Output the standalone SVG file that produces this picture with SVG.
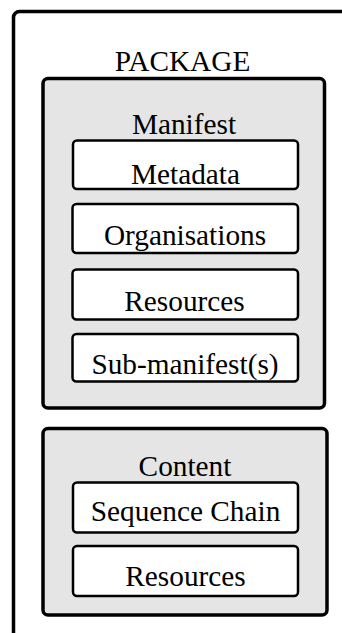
<svg xmlns="http://www.w3.org/2000/svg" width="342" height="633" viewBox="0 0 342 633">
<style>
text{font-family:"Liberation Serif","Times New Roman",serif;font-size:29.3px;fill:#000;text-anchor:middle}
.outer{fill:#fff;stroke:#000;stroke-width:3.5}
.grp{fill:#e5e5e5;stroke:#000;stroke-width:3.5}
.item{fill:#fff;stroke:#000;stroke-width:2.5}
</style>
<rect width="342" height="633" fill="#fff"/>
<g id="package">
<rect class="outer" x="13.5" y="11.5" width="345" height="640" rx="6"/>
<text x="182.5" y="71">PACKAGE</text>
</g>
<g id="manifest">
<rect class="grp" x="43" y="78.5" width="281.5" height="329.5" rx="5"/>
<text x="184" y="134">Manifest</text>
</g>
<g id="metadata">
<rect class="item" x="73" y="140.5" width="225" height="48.5" rx="4"/>
<text x="185.5" y="184">Metadata</text>
</g>
<g id="organisations">
<rect class="item" x="72.5" y="204" width="225.5" height="49" rx="4"/>
<text x="185" y="244.5">Organisations</text>
</g>
<g id="resources-manifest">
<rect class="item" x="72.5" y="269.5" width="225.5" height="50" rx="4"/>
<text x="184.5" y="311">Resources</text>
</g>
<g id="submanifest">
<rect class="item" x="72.5" y="334" width="225.5" height="47.5" rx="4"/>
<text x="185" y="374">Sub-manifest(s)</text>
</g>
<g id="content">
<rect class="grp" x="43" y="428.5" width="284" height="186.5" rx="5"/>
<text x="185" y="476">Content</text>
</g>
<g id="sequence-chain">
<rect class="item" x="73" y="482.5" width="225" height="50" rx="4"/>
<text x="185.5" y="521">Sequence Chain</text>
</g>
<g id="resources-content">
<rect class="item" x="73" y="546" width="225" height="50" rx="4"/>
<text x="185.5" y="586">Resources</text>
</g>
<g id="connectors"></g>
</svg>
